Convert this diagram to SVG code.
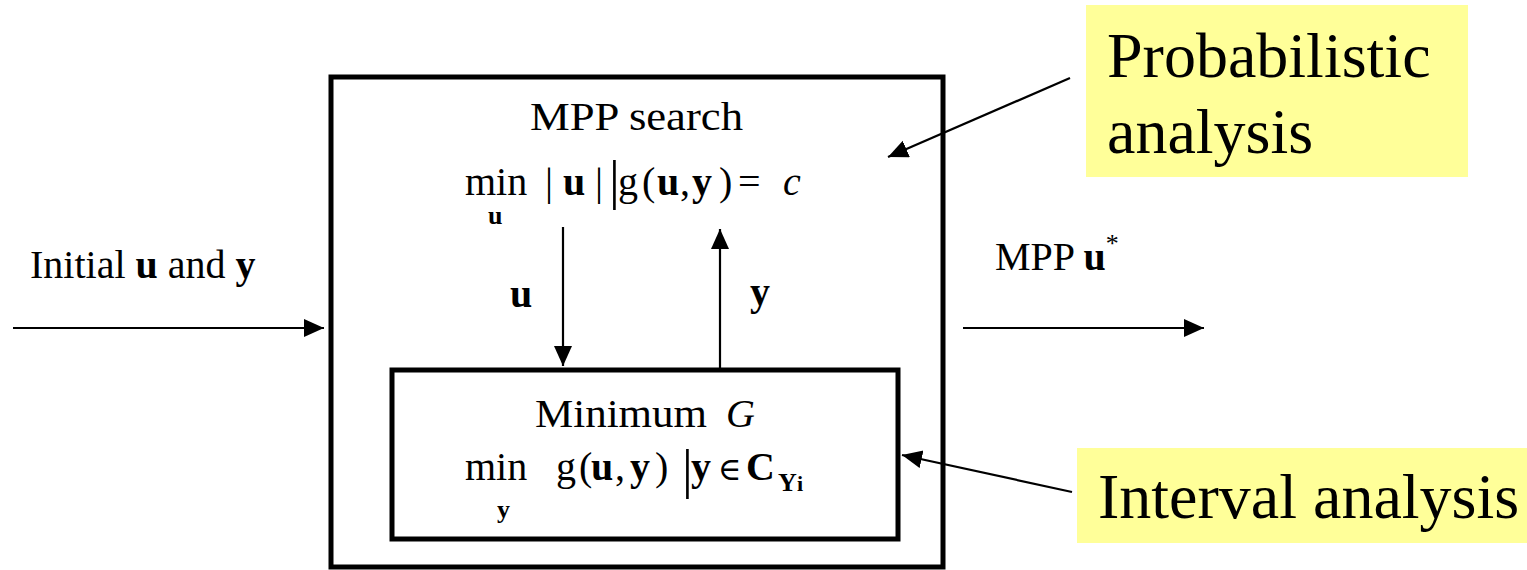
<svg xmlns="http://www.w3.org/2000/svg" width="1527" height="570" viewBox="0 0 1527 570">
<style>
text{font-family:"Liberation Serif","DejaVu Serif",serif;fill:#000}
.t{font-size:40px}
.b{font-weight:bold}
.i{font-style:italic}
.s{font-size:26px;font-weight:bold}
.big{font-size:64px}
.box{fill:none;stroke:#000;stroke-width:5}
.ln{stroke:#000;stroke-width:2.2;fill:none}
.note{fill:#FFFF99}
</style>
<defs>
<marker id="ah" markerUnits="userSpaceOnUse" markerWidth="22" markerHeight="20" refX="20" refY="9" orient="auto">
<path d="M0,0 L20,9 L0,18 Z" fill="#000"/>
</marker>
</defs>
<rect width="1527" height="570" fill="#fff"/>

<g id="outer-box">
<rect class="box" x="331" y="77" width="612" height="490"/>
<text class="t" x="530" y="130" textLength="213" lengthAdjust="spacingAndGlyphs">MPP search</text>
<text class="t" y="195"><tspan x="465">min</tspan><tspan x="545">|</tspan><tspan x="563" class="b">u</tspan><tspan x="595">|</tspan><tspan x="609" style="font-size:54px" y="198">|</tspan><tspan x="618" y="195">g</tspan><tspan x="642">(</tspan><tspan x="657" class="b">u</tspan><tspan x="680">,</tspan><tspan x="692" class="b">y</tspan><tspan x="719">)</tspan><tspan x="738">=</tspan><tspan x="783" class="i">c</tspan></text>
<text class="s" x="488" y="224">u</text>
</g>

<g id="inner-box">
<rect class="box" x="392" y="370" width="506" height="169"/>
<text class="t" x="535" y="427" textLength="172" lengthAdjust="spacingAndGlyphs">Minimum</text>
<text class="t i" x="726" y="427">G</text>
<text class="t" y="480"><tspan x="465">min</tspan><tspan x="556">g</tspan><tspan x="579">(</tspan><tspan x="591" class="b">u</tspan><tspan x="615">,</tspan><tspan x="630" class="b">y</tspan><tspan x="655">)</tspan><tspan x="682" style="font-size:54px" y="487">|</tspan><tspan x="691" y="480" class="b">y</tspan><tspan x="718" style="font-size:32px">∈</tspan><tspan x="746" class="b">C</tspan></text>
<text class="s" x="497" y="518">y</text>
<text class="s" x="778" y="491">Y</text>
<text class="s" x="797" y="491" style="font-size:22px">i</text>
</g>

<g id="input-label">
<text class="t" x="30" y="278">Initial <tspan class="b">u</tspan> and <tspan class="b">y</tspan></text>
</g>

<g id="output-label">
<text class="t" x="995" y="270">MPP <tspan class="b">u</tspan><tspan dy="-18" style="font-size:26px">*</tspan></text>
</g>

<g id="prob-note">
<rect class="note" x="1086" y="5" width="382" height="172"/>
<text class="big" x="1107" y="77">Probabilistic</text>
<text class="big" x="1107" y="153">analysis</text>
</g>

<g id="interval-note">
<rect class="note" x="1077" y="448" width="450" height="95"/>
<text class="big" x="1098" y="518">Interval analysis</text>
</g>

<g id="connectors">
<line class="ln" x1="13" y1="328" x2="324" y2="328" marker-end="url(#ah)"/>
<line class="ln" x1="963" y1="328" x2="1204" y2="328" marker-end="url(#ah)"/>
<line class="ln" x1="563" y1="227" x2="563" y2="366" marker-end="url(#ah)"/>
<line class="ln" x1="720" y1="370" x2="720" y2="229" marker-end="url(#ah)"/>
<text class="t b" x="510" y="307">u</text>
<text class="t b" x="750" y="305">y</text>
<line class="ln" x1="1070" y1="78" x2="888" y2="157" marker-end="url(#ah)"/>
<line class="ln" x1="1072" y1="492" x2="902" y2="455" marker-end="url(#ah)"/>
</g>
</svg>
